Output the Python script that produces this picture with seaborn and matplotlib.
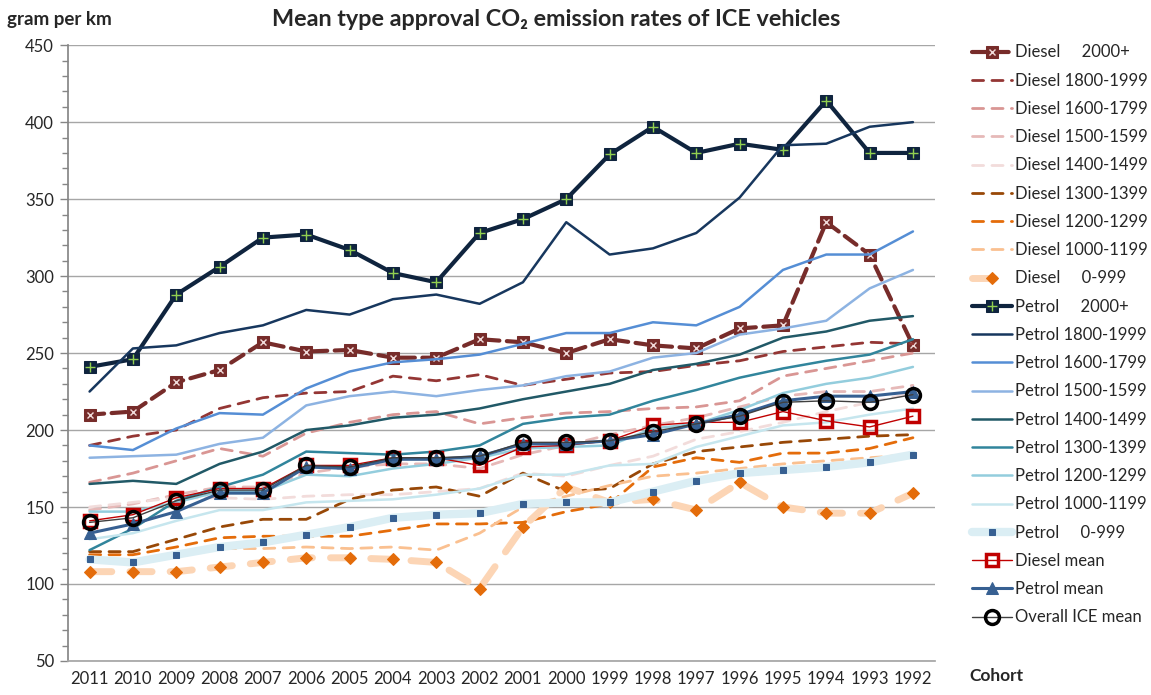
import numpy as np
import pandas as pd
import matplotlib
matplotlib.use("Agg")
import matplotlib.pyplot as plt
import seaborn as sns
from matplotlib.ticker import MultipleLocator

# cohorts, newest first (as in the original chart)
cohorts = ['2011', '2010', '2009', '2008', '2007', '2006', '2005', '2004', '2003', '2002',
           '2001', '2000', '1999', '1998', '1997', '1996', '1995', '1994', '1993', '1992']

# gram CO2 per km
diesel_2000 = [210, 212, 231, 239, 257, 251, 252, 247, 247, 259, 257, 250, 259, 255, 253, 266, 268, 335, 314, 255]
diesel_1800 = [190, 196, 200, 214, 221, 224, 225, 235, 232, 236, 229, 233, 237, 238, 242, 245, 251, 254, 257, 256]
diesel_1600 = [166, 172, 180, 188, 183, 198, 205, 210, 212, 204, 208, 211, 212, 214, 215, 219, 235, 240, 245, 250]
diesel_1500 = [148, 152, 158, 163, 163, 172, 176, 178, 178, 175, 184, 190, 197, 203, 208, 215, 222, 225, 225, 229]
diesel_1400 = [150, 153, 156, 156, 155, 157, 158, 158, 160, 162, 172, 170, 177, 183, 194, 199, 205, 212, 218, 224]
diesel_1300 = [121, 121, 129, 137, 142, 142, 155, 161, 163, 157, 172, 160, 162, 178, 186, 189, 192, 194, 196, 197]
diesel_1200 = [119, 119, 124, 130, 131, 131, 131, 135, 139, 139, 140, 147, 152, 176, 182, 179, 185, 185, 188, 195]
diesel_1000 = [116, 115, 119, 123, 123, 124, 123, 124, 122, 133, 150, 157, 164, 170, 172, 175, 178, 180, 182, 184]
diesel_0 = [108, 108, 108, 111, 114, 117, 117, 116, 114, 97, 137, 163, 153, 155, 148, 166, 150, 146, 146, 159]
petrol_2000 = [241, 246, 288, 306, 325, 327, 317, 302, 296, 328, 337, 350, 379, 397, 380, 386, 382, 414, 380, 380]
petrol_1800 = [225, 253, 255, 263, 268, 278, 275, 285, 288, 282, 296, 335, 314, 318, 328, 351, 385, 386, 397, 400]
petrol_1600 = [190, 187, 201, 211, 210, 227, 238, 244, 246, 249, 256, 263, 263, 270, 268, 280, 304, 314, 314, 329]
petrol_1500 = [182, 183, 184, 191, 195, 216, 222, 225, 222, 226, 229, 235, 238, 247, 250, 262, 266, 271, 292, 304]
petrol_1400 = [165, 167, 165, 178, 186, 200, 203, 208, 210, 214, 220, 225, 230, 239, 243, 249, 260, 264, 271, 274]
petrol_1300 = [122, 136, 154, 163, 171, 186, 185, 184, 186, 190, 204, 208, 210, 219, 226, 234, 240, 245, 249, 259]
petrol_1200 = [147, 147, 153, 160, 160, 171, 170, 175, 178, 182, 188, 189, 190, 201, 204, 213, 224, 230, 234, 241]
petrol_1000 = [129, 133, 141, 148, 148, 153, 154, 155, 158, 162, 171, 171, 177, 178, 189, 196, 203, 205, 210, 214]
petrol_0 = [116, 114, 119, 124, 127, 132, 137, 143, 145, 146, 152, 153, 153, 160, 167, 172, 174, 176, 179, 184]
diesel_mean = [141, 145, 156, 162, 162, 177, 177, 182, 182, 177, 189, 190, 193, 203, 205, 205, 212, 206, 202, 209]
petrol_mean = [133, 139, 147, 159, 159, 176, 175, 181, 181, 183, 191, 191, 193, 197, 204, 210, 219, 222, 222, 225]
overall_mean = [140, 143, 154, 161, 161, 177, 176, 182, 182, 183, 192, 192, 193, 199, 204, 209, 218, 219, 218, 223]

sns.set_theme(style="white")
plt.rcParams['font.family'] = ['Lato', 'DejaVu Sans']

fig = plt.figure(figsize=(11.51, 6.95), dpi=100)
ax = fig.add_axes([0.059, 0.049, 0.753, 0.886])

x = np.arange(len(cohorts))

# (label, values, color, lw, linestyle, marker options)
series = [
    ('Diesel     2000+', diesel_2000, '#772c2a', 3.0, (0, (3.5, 1.8)),
     dict(marker='s', markersize=8, markerfacecolor='#772c2a', markeredgecolor='#772c2a')),
    ('Diesel 1800-1999', diesel_1800, '#943634', 2.0, (0, (4, 3)), {}),
    ('Diesel 1600-1799', diesel_1600, '#d99694', 2.0, (0, (4, 3)), {}),
    ('Diesel 1500-1599', diesel_1500, '#e6b9b8', 2.0, (0, (4, 3)), {}),
    ('Diesel 1400-1499', diesel_1400, '#f2dcdb', 2.0, (0, (4, 3)), {}),
    ('Diesel 1300-1399', diesel_1300, '#984807', 2.0, (0, (4, 3)), {}),
    ('Diesel 1200-1299', diesel_1200, '#e46c0a', 2.0, (0, (4, 3)), {}),
    ('Diesel 1000-1199', diesel_1000, '#fac090', 2.0, (0, (4, 3)), {}),
    ('Diesel     0-999', diesel_0, '#fcd5b5', 5.0, (0, (3.2, 2.6)),
     dict(marker='D', markersize=6, markerfacecolor='#e46c0a', markeredgecolor='#e46c0a')),
    ('Petrol     2000+', petrol_2000, '#0f243e', 3.0, '-',
     dict(marker='s', markersize=8, markerfacecolor='#0f243e', markeredgecolor='#0f243e')),
    ('Petrol 1800-1999', petrol_1800, '#17375e', 1.8, '-', {}),
    ('Petrol 1600-1799', petrol_1600, '#558ed5', 1.8, '-', {}),
    ('Petrol 1500-1599', petrol_1500, '#8db3e2', 1.8, '-', {}),
    ('Petrol 1400-1499', petrol_1400, '#215967', 1.8, '-', {}),
    ('Petrol 1300-1399', petrol_1300, '#31859c', 1.8, '-', {}),
    ('Petrol 1200-1299', petrol_1200, '#93cddd', 1.8, '-', {}),
    ('Petrol 1000-1199', petrol_1000, '#c6e6ee', 1.8, '-', {}),
    ('Petrol     0-999', petrol_0, '#dbeef4', 6.0, '-',
     dict(marker='s', markersize=5, markerfacecolor='#376092', markeredgecolor='#376092')),
    ('Diesel mean', diesel_mean, '#c00000', 1.0, '-',
     dict(marker='s', markersize=9, markerfacecolor='none', markeredgecolor='#c00000', markeredgewidth=2.5)),
    ('Petrol mean', petrol_mean, '#376092', 2.2, '-',
     dict(marker='^', markersize=9, markerfacecolor='#376092', markeredgecolor='#376092')),
    ('Overall ICE mean', overall_mean, '#404040', 1.0, '-',
     dict(marker='o', markersize=10, markerfacecolor='none', markeredgecolor='black', markeredgewidth=2.5)),
]

# little symbols drawn inside the square markers of the two 2000+ series
overlays = {
    'Diesel     2000+': dict(marker='x', markersize=5, markeredgecolor='#f2dcdb', markeredgewidth=1.0),
    'Petrol     2000+': dict(marker='+', markersize=7, markeredgecolor='#92d050', markeredgewidth=1.0),
}

handles, labels = [], []
for label, vals, color, lw, ls, mk in series:
    df = pd.DataFrame({'x': x, 'y': vals})
    sns.lineplot(data=df, x='x', y='y', ax=ax, color=color, linewidth=lw,
                 linestyle=ls, label=label, dash_capstyle='round', **mk)
    h = ax.get_lines()[-1]
    if label in overlays:
        sns.lineplot(data=df, x='x', y='y', ax=ax, linestyle='none', **overlays[label])
        h = (h, ax.get_lines()[-1])
    handles.append(h)
    labels.append(label)

ax.set_xlim(-0.5, 19.5)
ax.set_ylim(50, 450)
ax.set_xticks(x)
ax.set_xticklabels(cohorts, fontsize=12)
ax.yaxis.set_major_locator(MultipleLocator(50))
ax.yaxis.set_minor_locator(MultipleLocator(10))
ax.tick_params(axis='y', which='major', left=True, length=6, width=1, color='#868686',
               labelsize=12, pad=4)
ax.tick_params(axis='y', which='minor', left=True, length=4, width=1, color='#868686')
ax.tick_params(axis='x', length=0, pad=7)
ax.grid(axis='y', color='#a6a6a6', linewidth=1)
ax.set_axisbelow(True)
for s in ['top', 'right']:
    ax.spines[s].set_visible(False)
ax.spines['left'].set_color('#868686')
ax.spines['bottom'].set_color('#a6a6a6')
ax.set_xlabel('')
ax.set_ylabel('')

ax.legend(handles, labels, loc='upper left', bbox_to_anchor=(1.035, 1.012), frameon=False,
          fontsize=12, handlelength=2.4, handletextpad=0.2, labelspacing=0.735,
          borderaxespad=0.0)

fig.text(0.483, 0.972, 'Mean type approval CO\u2082 emission rates of ICE vehicles',
         ha='center', va='center', fontsize=16.8, fontweight='bold')
fig.text(0.006, 0.972, 'gram per km', ha='left', va='center', fontsize=13.5, fontweight='bold')
fig.text(0.842, 0.028, 'Cohort', ha='left', va='center', fontsize=12.5, fontweight='bold')

fig.savefig('out.png', dpi=100)
